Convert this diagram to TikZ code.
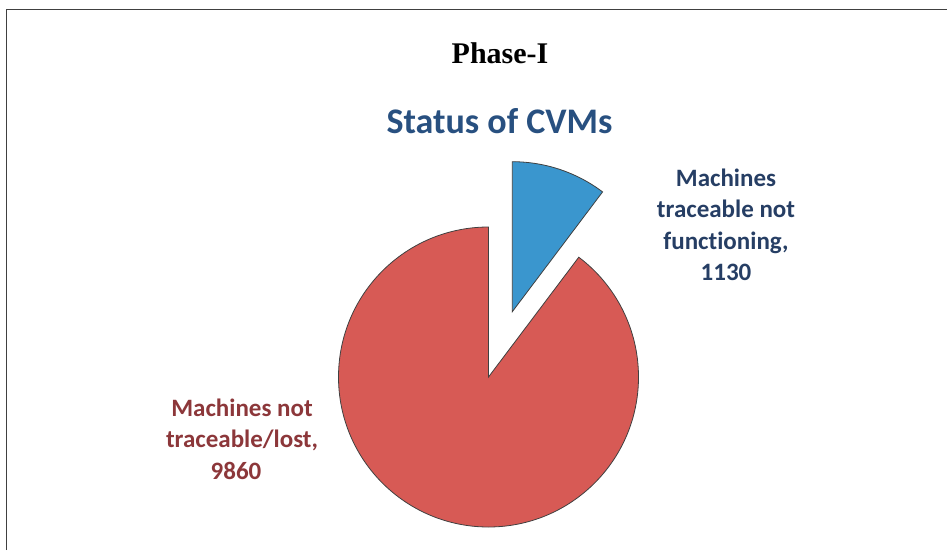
\documentclass[tikz,border=0pt]{standalone}
\usepackage{fontspec}
\setmainfont{Liberation Serif}
\newfontfamily\calib[Ligatures=NoCommon]{Carlito}
\usepackage{tikz}
\usetikzlibrary{positioning}
\definecolor{pieblue}{RGB}{58,150,206}
\definecolor{piered}{RGB}{215,90,85}
\definecolor{navytext}{RGB}{38,62,100}
\definecolor{headblue}{RGB}{40,80,128}
\definecolor{wine}{RGB}{140,55,58}
\tikzset{
  %Define style for the pie slices
  slice/.style={
    draw=black!75,
    line width=0.8pt,
    line join=miter},
  % Define style for the slice labels
  lbl/.style={
    align=center,
    inner sep=0pt,
    font={\calib\bfseries\fontsize{25}{31.5}\selectfont}},
  % Define frame line
  frame/.style={
    draw=black!75,
    line width=1.6pt}
}

\begin{document}
\begin{tikzpicture}[x=1pt,y=1pt]
  \useasboundingbox (0,0) rectangle (947,550);
  \draw[frame] (6.5,0) -- (6.5,540.3) -- (947,540.3);
  \node[anchor=base,inner sep=0pt,font={\bfseries\fontsize{30}{36}\selectfont}] (phase) at (500,486) {Phase-I};
  \node[anchor=base,inner sep=0pt,text=headblue,font={\calib\bfseries\fontsize{36}{43}\selectfont}] (head) at (499.5,416.7) {Status of CVMs};
  % the two slices
  \coordinate (redc) at (488.5,173);
  \coordinate (bluec) at (512.3,238.3);
  \draw[slice,fill=piered] (redc) -- ++(90:150) arc[start angle=90,end angle=413,radius=150] -- cycle;
  \draw[slice,fill=pieblue] (bluec) -- ++(53:150) arc[start angle=53,end angle=90,radius=150] -- cycle;
  \node[lbl,text=navytext] (func) at (726,325) {Machines\\traceable not\\functioning,\\1130};
  \node[lbl,text=wine] (lost) at (242,111) {Machines not\\traceable/lost,\\9860\hspace*{12pt}};
\end{tikzpicture}
\end{document}
